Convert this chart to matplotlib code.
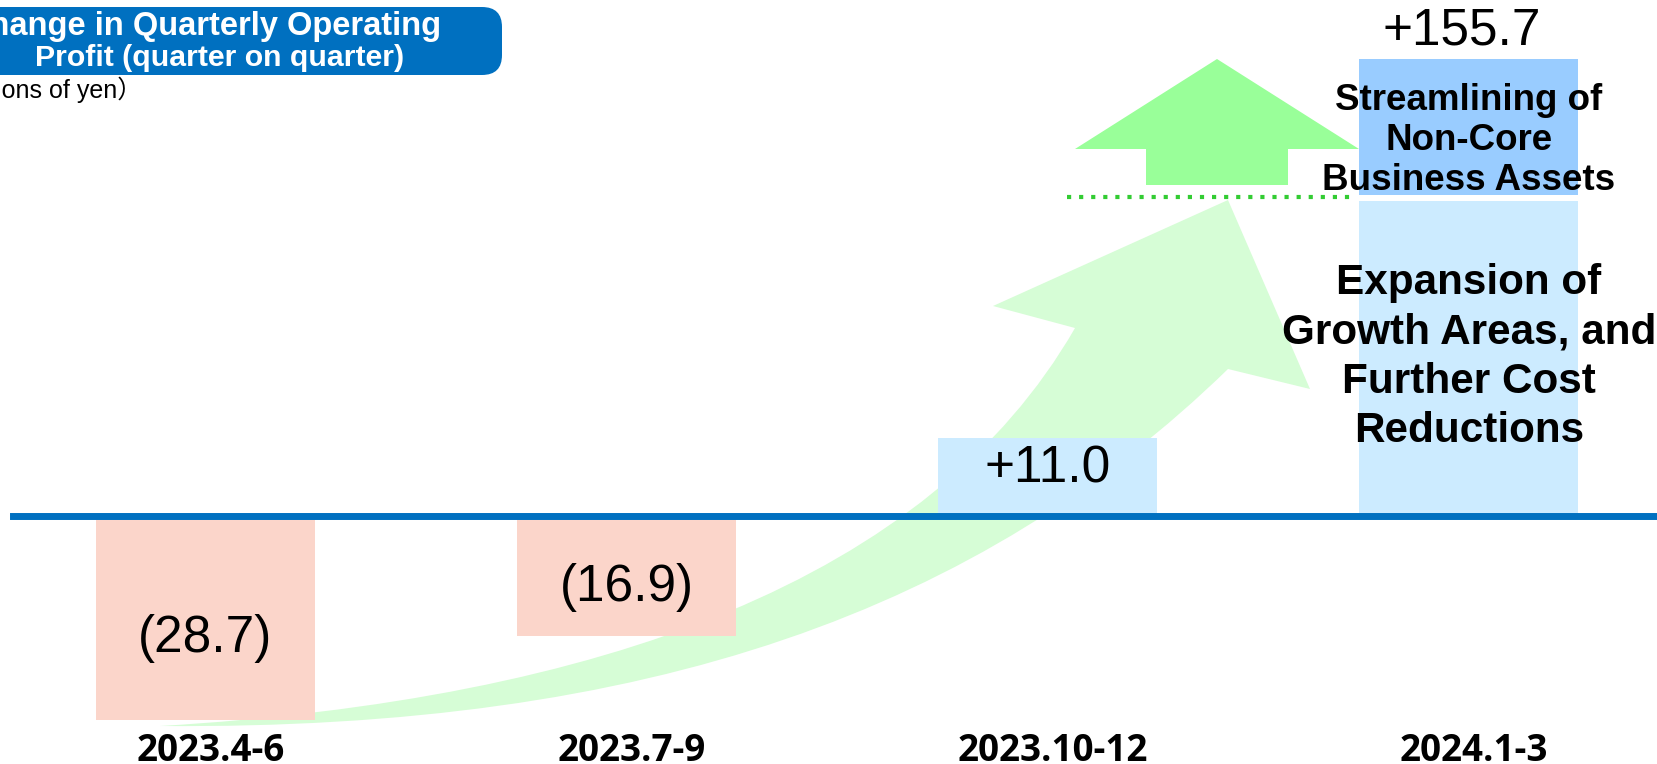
import matplotlib
matplotlib.use("Agg")
import matplotlib.pyplot as plt
import matplotlib.transforms as mtransforms
from matplotlib.patches import FancyBboxPatch, Polygon, PathPatch
from matplotlib.path import Path
from matplotlib.lines import Line2D

# dati (miliardi di yen, variazione trimestre su trimestre)
quarters = ["2023.4-6", "2023.7-9", "2023.10-12", "2024.1-3"]
changes = [-28.7, -16.9, 11.0, 155.7]

# l'ultima barra non e' in scala: divisa nei due fattori e tagliata
q4_drivers = [["Expansion of", "Growth Areas, and", "Further Cost", "Reductions"],
              ["Streamlining of", "Non-Core", "Business Assets"]]
q4_drawn = [44.3, 19.2]

title_lines = ["Change in Quarterly Operating", "Profit (quarter on quarter)"]
unit_label = "（Billions of yen）"

W, H = 1658, 764
NEG = "#FBD5CA"
POS = "#CCEBFF"
POS2 = "#99CCFF"
BLUE = "#0070C0"
FONT = ["Liberation Sans", "DejaVu Sans"]

fig = plt.figure(figsize=(W / 100, H / 100), dpi=100)

# assi di sfondo in pixel (freccia, titolo, linea tratteggiata)
deco = fig.add_axes([0, 0, 1, 1], zorder=0)
deco.set_xlim(0, W)
deco.set_ylim(H, 0)
deco.axis("off")

# assi dei dati
ax = fig.add_axes([0, 0, 1, 1], zorder=1)
ax.set_xlim(-0.488, 3.450)
ax.set_ylim(-34.93, 72.68)
ax.axis("off")

# freccia curva verde chiaro dietro le barre
verts = [(160, 726), (600, 700), (930, 580), (1075, 328),
         (993, 306), (1228, 200), (1310, 389), (1228, 369),
         (980, 610), (650, 730), (160, 726), (160, 726)]
codes = [Path.MOVETO, Path.CURVE4, Path.CURVE4, Path.CURVE4,
         Path.LINETO, Path.LINETO, Path.LINETO, Path.LINETO,
         Path.CURVE4, Path.CURVE4, Path.CURVE4, Path.CLOSEPOLY]
deco.add_patch(PathPatch(Path(verts, codes), facecolor="#D6FDD6", edgecolor="none"))

# freccia verde in alto
deco.add_patch(Polygon([(1217, 59), (1359, 149), (1288, 149), (1288, 185),
                        (1146, 185), (1146, 149), (1075, 149)],
                       closed=True, facecolor="#99FF99", edgecolor="none"))
deco.add_line(Line2D([1067, 1352], [197, 197], color="#33CC33", lw=3.0,
                     dashes=(1, 1.9), solid_capstyle="butt", dash_capstyle="butt"))

# riquadro del titolo
deco.add_patch(FancyBboxPatch((-60, 7), 562, 68, boxstyle="round,pad=0,rounding_size=20",
                              facecolor=BLUE, edgecolor="none"))
deco.text(441, 35, title_lines[0], ha="right", va="baseline", color="white",
          fontsize=23.5, fontweight="bold", family=FONT)
deco.text(404, 66, title_lines[1], ha="right", va="baseline", color="white",
          fontsize=21.8, fontweight="bold", family=FONT)
deco.text(142, 98, unit_label, ha="right", va="baseline", fontsize=18,
          family=["Liberation Sans", "Noto Sans CJK JP"])

# barre
width = 0.52
x = list(range(len(changes)))
ax.bar(x[:3], changes[:3], width=width,
       color=[NEG if v < 0 else POS for v in changes[:3]], zorder=2)
gap = 0.85
ax.bar(x[3], q4_drawn[0], width=width, color=POS, zorder=2)
ax.bar(x[3], q4_drawn[1], bottom=q4_drawn[0] + gap, width=width, color=POS2, zorder=2)

ax.axhline(0, xmin=13 / W, xmax=1, color=BLUE, lw=5, zorder=3)


def fmt(v):
    return f"({abs(v):.1f})" if v < 0 else f"+{v:.1f}"


for i, v in enumerate(changes[:3]):
    ax.text(i, 0.6 * v, fmt(v), ha="center", va="center", fontsize=37,
            family=FONT, zorder=4)
ax.text(x[3] - 0.017, sum(q4_drawn) + gap + 4.0, fmt(changes[3]), ha="center",
        va="center", fontsize=37, family=FONT, zorder=4)

# testi dentro l'ultima barra (posizioni in pixel)
xpx = 1469
for k, line in enumerate(q4_drivers[0]):
    ax.text(xpx, 294 + 49.5 * k, line, ha="center", va="baseline", fontsize=30.4,
            fontweight="bold", family=FONT, transform=deco.transData, zorder=4)
for k, line in enumerate(q4_drivers[1]):
    ax.text(xpx, 110 + 40 * k, line, ha="center", va="baseline", fontsize=26.5,
            fontweight="bold", family=FONT, transform=deco.transData, zorder=4)

# etichette dei trimestri
tr = mtransforms.blended_transform_factory(ax.transData, deco.transData)
for i, q in enumerate(quarters):
    ax.text(i + 0.012, 761, q, ha="center", va="baseline", fontsize=26.5, fontweight="bold",
            family=["Open Sans", "DejaVu Sans"], transform=tr, zorder=4)

fig.savefig("out.png", dpi=100)
